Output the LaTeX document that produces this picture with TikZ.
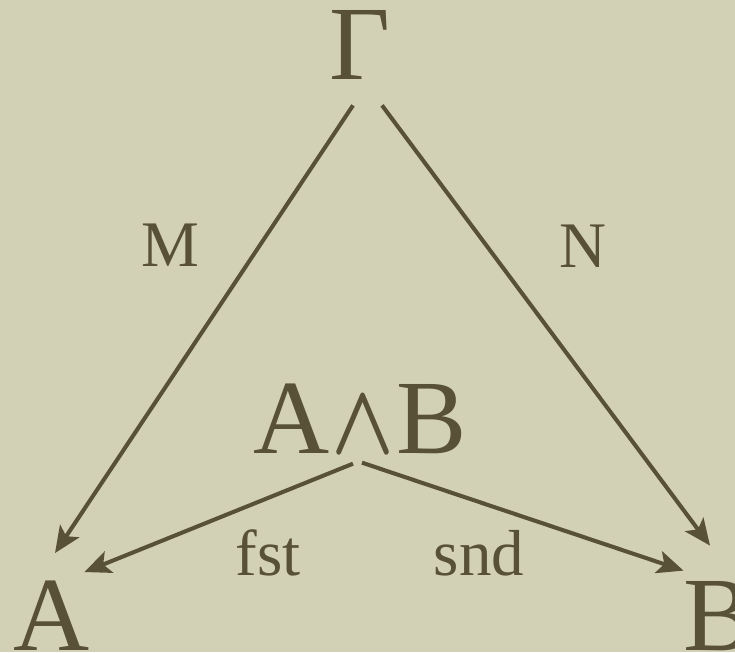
\documentclass[tikz,border=0pt]{standalone}
\usepackage{fix-cm}
\usepackage{graphicx}
\usepackage{fontspec}
\setmainfont{Liberation Serif}
\usetikzlibrary{arrows.meta}
\begin{document}
\begin{tikzpicture}[
    lbl/.style={inner sep=0pt, anchor=base, text=myink},
    big/.style={lbl, font=\fontsize{60}{62}\selectfont},
    small/.style={lbl, font=\fontsize{37}{40}\selectfont},
    arr/.style={-{Stealth[length=15pt, width=13pt, inset=3.5pt]}, line width=2.3pt, myink}
]
    \definecolor{myink}{RGB}{88,80,55}
    \definecolor{mypaper}{RGB}{210,209,182}

    \fill[mypaper] (0,0) rectangle (14.7,13.04);
    \useasboundingbox (0,0) rectangle (14.7,13.04);

    % the objects
    \node[big] (G) at (7.20,11.44) {Γ};
    \node[big] (AB) at (7.20,3.98) {A\kern1pt\scalebox{0.78}[0.95]{\boldmath$\wedge$}\kern1pt B};
    \node[big] (A) at (1.04,0.04) {A};
    \node[big] (B) at (14.38,0.04) {B};

    % the arrows
    \draw[arr] ([shift={(-0.14,-0.5)}]G.south) -- ([shift={(0.06,0.54)}]A.north);
    \draw[arr] ([shift={(0.44,-0.5)}]G.south) -- ([shift={(-0.18,0.70)}]B.north);
    \draw[arr] ([shift={(-0.14,-0.20)}]AB.south) -- ([shift={(-0.12,0.16)}]A.north east);
    \draw[arr] ([shift={(0.04,-0.18)}]AB.south) -- ([shift={(0.0,0.20)}]B.north west);

    % labels
    \node[small] (M) at (3.40,7.72) {M};
    \node[small] (N) at (11.66,7.70) {N};
    \node[small] (fst) at (5.37,1.54) {fst};
    \node[small] (snd) at (9.58,1.54) {snd};
\end{tikzpicture}
\end{document}
